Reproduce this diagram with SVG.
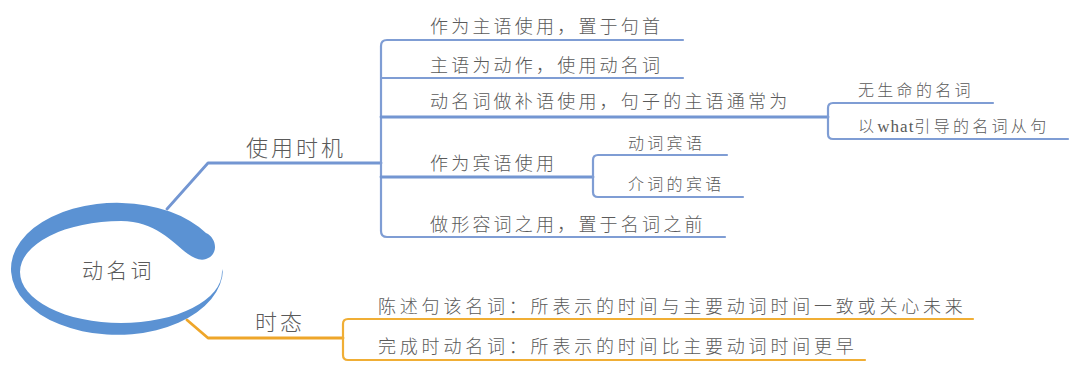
<svg xmlns="http://www.w3.org/2000/svg" width="1080" height="385" viewBox="0 0 1080 385">
<style>
  text { font-family: "Noto Sans CJK SC", "Noto Sans", sans-serif; fill: #5a5a5a; font-weight: 300; }
  .root { font-size: 21px; letter-spacing: 3.3px; }
  .main { font-size: 22px; letter-spacing: 3px; }
  .item { font-size: 18px; letter-spacing: 3.2px; }
  .sub { font-size: 16px; letter-spacing: 3.3px; }
  .oitem { font-size: 18px; letter-spacing: 3.8px; }
  .lat { font-family: "Liberation Serif", serif; letter-spacing: 1px; font-weight: 400; }
  .b { fill: none; stroke: #7f9dd4; stroke-width: 2.2; stroke-linecap: round; stroke-linejoin: round; }
  .bt { fill: none; stroke: #7396d2; stroke-width: 2.8; stroke-linecap: round; stroke-linejoin: round; }
  .o { fill: none; stroke: #f0ae35; stroke-width: 2.2; stroke-linecap: round; stroke-linejoin: round; }
  .ot { fill: none; stroke: #eea62a; stroke-width: 2.8; stroke-linecap: round; stroke-linejoin: round; }
</style>
<rect width="1080" height="385" fill="#ffffff"/>

<g id="connectors">
  <path class="bt" d="M167,209 L208,163 H381"/>
  <path class="b" d="M683,40 H387 Q381,40 381,46 V231 Q381,237 387,237 H725"/>
  <path class="b" d="M381,78 H683"/>
  <path class="bt" d="M381,117 H828"/>
  <path class="bt" d="M381,177 H593"/>
  <path class="b" d="M993,103 H833 Q828,103 828,108 V134 Q828,139 833,139 H1068"/>
  <path class="b" d="M727,155 H598 Q593,155 593,160 V192 Q593,197 598,197 H743"/>
  <path class="ot" d="M187,320 L208,338 H343"/>
  <path class="o" d="M973,319 H348 Q343,319 343,324 V355 Q343,360 348,360 H865"/>
</g>

<g id="node-root">
  <path fill="#5b92d3" d="M223,269 A106 66 0 1 1 206,233 C217,238 219,255 206,259 C200,261 194,258 188,254 C172,242 155,221 121,221 A101 51 0 1 0 222,272 Z"/>
  <text class="root" x="82" y="278">动名词</text>
</g>

<g id="node-usage">
  <text class="main" x="246" y="156">使用时机</text>
</g>
<g id="node-u1"><text class="item" x="430" y="33">作为主语使用，置于句首</text></g>
<g id="node-u2"><text class="item" x="430" y="72">主语为动作，使用动名词</text></g>
<g id="node-u3"><text class="item" x="430" y="108">动名词做补语使用，句子的主语通常为</text></g>
<g id="node-u3a"><text class="sub" x="858" y="96">无生命的名词</text></g>
<g id="node-u3b"><text class="sub" x="858" y="132">以<tspan class="lat" font-size="17">what</tspan>引导的名词从句</text></g>
<g id="node-u4"><text class="item" x="430" y="170">作为宾语使用</text></g>
<g id="node-u4a"><text class="sub" x="628" y="149">动词宾语</text></g>
<g id="node-u4b"><text class="sub" x="628" y="190">介词的宾语</text></g>
<g id="node-u5"><text class="item" x="430" y="231">做形容词之用，置于名词之前</text></g>

<g id="node-tense">
  <text class="main" x="255" y="330">时态</text>
</g>
<g id="node-t1"><text class="oitem" x="378" y="313">陈述句该名词：所表示的时间与主要动词时间一致或关心未来</text></g>
<g id="node-t2"><text class="oitem" x="378" y="353">完成时动名词：所表示的时间比主要动词时间更早</text></g>
</svg>
